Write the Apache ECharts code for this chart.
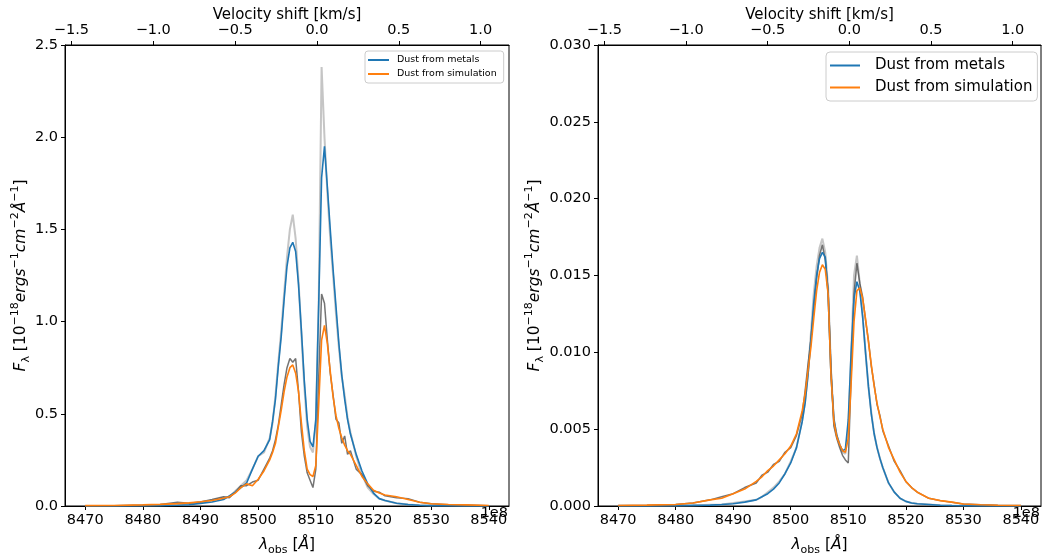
<!DOCTYPE html>
<html><head><meta charset="utf-8">
<script src="https://cdn.jsdelivr.net/npm/echarts@6/dist/echarts.min.js"></script>
<style>html,body{margin:0;padding:0;background:#fff}#c{width:1045px;height:554px}</style>
</head><body><div id="c"></div>
<script>
// Observed wavelength grid [Å]
const wavelength = [8470,8475,8480,8483,8486,8488,8490,8492,8494,8495,8496,8497,8498,8499,8500,8501,
  8502,8502.5,8503,8503.5,8504,8504.5,8505,8505.5,8506,8506.5,8507,8507.5,8508,8508.5,8509,8509.5,
  8510,8510.5,8511,8511.5,8512,8512.5,8513,8513.5,8514,8514.5,8515,8515.5,8516,
  8517,8518,8519,8520,8521,8522,8524,8526,8528,8530,8533,8536,8540];

// Left panel
const leftMetals = [0,0,0.001,0.002,0.004,0.007,0.014,0.022,0.035,0.055,0.075,0.10,0.125,0.20,0.27,0.30,
  0.36,0.46,0.58,0.76,0.92,1.12,1.30,1.40,1.43,1.38,1.20,0.95,0.68,0.47,0.35,0.32,
  0.47,1.10,1.78,1.95,1.73,1.50,1.28,1.08,0.88,0.71,0.58,0.47,0.39,
  0.28,0.19,0.12,0.07,0.04,0.03,0.015,0.008,0.004,0.002,0.001,0,0];
const leftSimulation = [0.002,0.003,0.006,0.009,0.013,0.017,0.023,0.03,0.042,0.05,0.07,0.10,0.12,0.11,0.145,0.19,
  0.25,0.29,0.34,0.43,0.52,0.62,0.70,0.75,0.765,0.72,0.62,0.45,0.30,0.20,0.17,0.16,
  0.22,0.55,0.90,0.98,0.88,0.73,0.59,0.49,0.42,0.37,0.33,0.30,0.28,
  0.22,0.16,0.12,0.085,0.07,0.06,0.05,0.035,0.02,0.012,0.008,0.006,0.003];
const leftMetalsRaw = [0,0,0.002,0.004,0.008,0.01,0.02,0.03,0.045,0.05,0.08,0.11,0.14,0.20,0.27,0.29,
  0.37,0.45,0.60,0.78,0.95,1.15,1.35,1.50,1.58,1.45,1.22,0.93,0.65,0.43,0.32,0.29,
  0.45,1.10,2.38,2.00,1.70,1.45,1.25,1.04,0.86,0.70,0.60,0.48,0.40,
  0.27,0.17,0.10,0.065,0.04,0.03,0.015,0.008,0.004,0.002,0.001,0,0];
const leftSimulationRaw = [0.002,0.002,0.005,0.008,0.02,0.015,0.022,0.035,0.05,0.045,0.075,0.11,0.11,0.13,0.14,0.20,
  0.26,0.30,0.36,0.44,0.55,0.66,0.75,0.80,0.78,0.80,0.62,0.40,0.27,0.18,0.14,0.10,
  0.20,0.70,1.15,1.10,0.90,0.72,0.60,0.47,0.45,0.34,0.38,0.28,0.30,
  0.20,0.17,0.11,0.08,0.075,0.055,0.045,0.04,0.02,0.012,0.007,0.005,0.002];

// Right panel
const rightMetals = [0,0,0.00002,0.00004,0.00006,0.0001,0.00015,0.00025,0.0004,0.0006,0.0008,0.0011,0.0015,0.0021,0.0028,0.0038,
  0.0055,0.0067,0.0085,0.0108,0.0132,0.0150,0.0161,0.0165,0.0162,0.0138,0.0085,0.0057,0.0046,0.0040,0.0036,0.0037,
  0.0056,0.0100,0.0135,0.0146,0.0140,0.0123,0.0100,0.0078,0.0060,0.0047,0.0038,0.0031,0.0025,
  0.0015,0.0009,0.0005,0.0003,0.0002,0.00015,0.0001,0.00005,0.00003,0.00002,0.00001,0,0];
const rightSimulation = [0.00003,0.00006,0.0001,0.0002,0.0004,0.0005,0.0008,0.0011,0.0016,0.0019,0.0023,0.0026,0.0030,0.0034,0.0039,0.0047,
  0.0062,0.0073,0.0088,0.0103,0.0122,0.0140,0.0152,0.0157,0.0154,0.0138,0.0085,0.0055,0.0045,0.0040,0.0036,0.0035,
  0.0044,0.0080,0.0120,0.0140,0.0142,0.0135,0.0122,0.0107,0.0092,0.0078,0.0067,0.0058,0.0050,
  0.0038,0.0030,0.0022,0.0016,0.0012,0.0009,0.0005,0.00035,0.00025,0.00013,0.00008,0.00005,0.00003];
const rightMetalsRaw = [0,0,0.00002,0.00004,0.00008,0.0001,0.0002,0.0003,0.0004,0.0006,0.0009,0.0012,0.0016,0.0021,0.0029,0.0038,
  0.0056,0.0068,0.0087,0.0112,0.0138,0.0156,0.0168,0.0174,0.0165,0.0142,0.0088,0.0055,0.0046,0.0040,0.0035,0.0034,
  0.0050,0.0098,0.0150,0.0163,0.0145,0.0124,0.0100,0.0078,0.0061,0.0047,0.0038,0.0031,0.0025,
  0.0015,0.0009,0.0005,0.0003,0.0002,0.00015,0.0001,0.00005,0.00003,0.00002,0.00001,0,0];
const rightSimulationRaw = [0.00003,0.00005,0.0001,0.0002,0.0004,0.0006,0.0008,0.0012,0.0015,0.0020,0.0022,0.0027,0.0029,0.0035,0.0038,0.0046,
  0.0060,0.0075,0.0092,0.0108,0.0128,0.0148,0.0163,0.0170,0.0160,0.0140,0.0090,0.0052,0.0044,0.0038,0.0033,0.0030,
  0.0028,0.0085,0.0138,0.0158,0.0145,0.0136,0.0121,0.0108,0.0091,0.0079,0.0066,0.0059,0.0049,
  0.0039,0.0029,0.0023,0.0016,0.0012,0.0009,0.0005,0.00035,0.00025,0.00013,0.00008,0.00005,0.00003];

// Tick labels
const lambdaTicks = [8470,8480,8490,8500,8510,8520,8530,8540];
const velocityTicks = [-1.5,-1.0,-0.5,0.0,0.5,1.0];
const leftYTicks = [0,0.5,1.0,1.5,2.0,2.5];
const rightYTicks = [0,0.005,0.010,0.015,0.020,0.025,0.030];
const legendNames = ['Dust from metals','Dust from simulation'];

const FONT = 'DejaVu Sans';
const TICK = 14.5;
const lamMin = 8466.5, lamMax = 8543.5, lam0 = 8510.19, cK = 299.792458;
const vMin = (lamMin - lam0) / lam0 * cK, vMax = (lamMax - lam0) / lam0 * cK;

const pair = arr => wavelength.map((w, i) => [w, arr[i]]);
const axisCommon = {
  axisLine: {show: true, onZero: false, lineStyle: {color: '#000', width: 1}},
  axisTick: {show: true, inside: false, length: 4, lineStyle: {color: '#000'}},
  splitLine: {show: false},
  nameMoveOverlap: false,
  axisLabel: {color: '#000', fontSize: TICK, fontFamily: FONT, margin: 7}
};
const rich = {
  it: {fontStyle: 'italic', fontSize: 15.5, fontFamily: FONT, color: '#000', lineHeight: 22},
  sup: {fontSize: 11, fontFamily: FONT, color: '#000', lineHeight: 10, verticalAlign: 'top'},
  sub: {fontSize: 11, fontFamily: FONT, color: '#000', lineHeight: 10, verticalAlign: 'bottom'}
};
const nameStyle = {fontSize: 15.5, fontFamily: FONT, color: '#000', lineHeight: 22, rich: rich};
const velFmt = v => (v < 0 ? '\u2212' : '') + Math.abs(v).toFixed(1);

function xAxes(gi) {
  return [
    Object.assign({}, axisCommon, {
      gridIndex: gi, type: 'value', position: 'bottom', min: lamMin, max: lamMax,
      axisTick: Object.assign({}, axisCommon.axisTick, {customValues: lambdaTicks}),
      axisLabel: Object.assign({}, axisCommon.axisLabel, {customValues: lambdaTicks, formatter: v => String(v)}),
      name: '{it|λ}{sub|obs} [{it|Å}]', nameLocation: 'middle', nameGap: 28, nameTextStyle: nameStyle
    }),
    Object.assign({}, axisCommon, {
      gridIndex: gi, type: 'value', position: 'top', min: vMin, max: vMax,
      axisTick: Object.assign({}, axisCommon.axisTick, {customValues: velocityTicks}),
      axisLabel: Object.assign({}, axisCommon.axisLabel, {customValues: velocityTicks, formatter: velFmt}),
      name: 'Velocity shift [km/s]', nameLocation: 'middle', nameGap: 22,
      nameTextStyle: {fontSize: 15, fontFamily: FONT, color: '#000'}
    })
  ];
}
const yName = '{it|F}{sub|λ} [10{sup|−18}{it|ergs}{sup|−1}{it|cm}{sup|−2}{it|Å}{sup|−1}]';
function yAxis(gi, ticks, max, dec, gap) {
  return Object.assign({}, axisCommon, {
    gridIndex: gi, type: 'value', min: 0, max: max,
    axisTick: Object.assign({}, axisCommon.axisTick, {customValues: ticks}),
    axisLabel: Object.assign({}, axisCommon.axisLabel, {customValues: ticks, formatter: v => v.toFixed(dec)}),
    name: yName, nameLocation: 'middle', nameGap: gap, nameRotate: 90, nameTextStyle: nameStyle
  });
}
function lineSeries(name, data, xi, yi, color, width, z) {
  return {name: name, type: 'line', xAxisIndex: xi, yAxisIndex: yi, data: pair(data),
    symbol: 'none', showSymbol: false, animation: false, z: z,
    lineStyle: {color: color, width: width}, itemStyle: {color: color}};
}
const LIGHT = 'rgba(140,140,140,0.5)', DARK = 'rgba(70,70,70,0.75)';
const BLUE = '#1f77b4', ORANGE = '#ff7f0e';

const option = {
  animation: false,
  backgroundColor: '#fff',
  grid: [
    {left: 65, top: 45, width: 444, height: 461, show: true, borderColor: '#000', borderWidth: 1,
     backgroundColor: 'transparent', containLabel: false, outerBoundsMode: 'none'},
    {left: 598, top: 45, width: 443, height: 461, show: true, borderColor: '#000', borderWidth: 1,
     backgroundColor: 'transparent', containLabel: false, outerBoundsMode: 'none'}
  ],
  xAxis: xAxes(0).concat(xAxes(1)),
  yAxis: [yAxis(0, leftYTicks, 2.5, 1, 33), yAxis(1, rightYTicks, 0.03, 3, 52)],
  legend: [
    {data: legendNames, orient: 'vertical', left: 365, top: 51, icon: 'rect',
     itemWidth: 21, itemHeight: 2, itemGap: 4, padding: [4, 7, 4, 3],
     borderColor: '#ccc', borderWidth: 1, borderRadius: 3, backgroundColor: '#fff',
     textStyle: {fontSize: 9.5, fontFamily: FONT, color: '#000', padding: [0, 0, 0, 3]}},
    {data: legendNames, orient: 'vertical', left: 826, top: 52, icon: 'rect',
     itemWidth: 30, itemHeight: 2, itemGap: 7, padding: [6, 5, 6, 4],
     borderColor: '#ccc', borderWidth: 1, borderRadius: 4, backgroundColor: '#fff',
     textStyle: {fontSize: 15, fontFamily: FONT, color: '#000', padding: [0, 0, 0, 10]}}
  ],
  graphic: [
    {type: 'text', right: 1045 - 508, top: 506, z: 100, style: {text: '1e8', fontSize: TICK, fontFamily: FONT, fill: '#000'}},
    {type: 'text', right: 1045 - 1040, top: 506, z: 100, style: {text: '1e8', fontSize: TICK, fontFamily: FONT, fill: '#000'}}
  ],
  series: [
    lineSeries('metals raw L', leftMetalsRaw, 0, 0, LIGHT, 2, 1),
    lineSeries('simulation raw L', leftSimulationRaw, 0, 0, DARK, 1.5, 2),
    lineSeries('Dust from metals', leftMetals, 0, 0, BLUE, 1.6, 3),
    lineSeries('Dust from simulation', leftSimulation, 0, 0, ORANGE, 1.6, 4),
    lineSeries('metals raw R', rightMetalsRaw, 2, 1, LIGHT, 2, 1),
    lineSeries('simulation raw R', rightSimulationRaw, 2, 1, DARK, 1.5, 2),
    lineSeries('Dust from metals', rightMetals, 2, 1, BLUE, 1.6, 3),
    lineSeries('Dust from simulation', rightSimulation, 2, 1, ORANGE, 1.6, 4)
  ]
};
const chart = echarts.init(document.getElementById('c'), null, {renderer: 'canvas'});
chart.setOption(option);
</script>
</body></html>
